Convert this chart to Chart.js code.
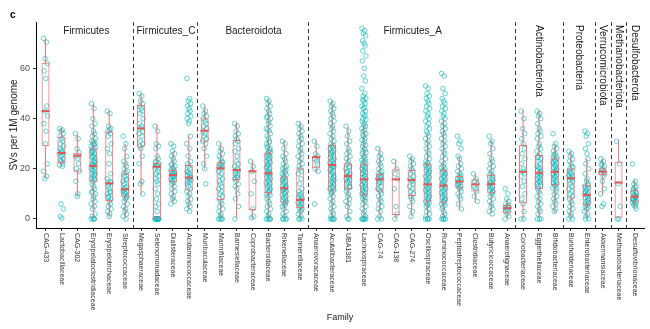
<!DOCTYPE html>
<html>
<head>
<meta charset="utf-8">
<script src="https://cdn.jsdelivr.net/npm/chart.js@4.4.0/dist/chart.umd.min.js"></script>
<style>
  html, body { margin: 0; padding: 0; background: #fff; }
</style>
</head>
<body>
<canvas id="svChart" width="650" height="329"></canvas>
<script>
const families = [
  'CAG-433', 'Lactobacillaceae', 'CAG-302', 'Erysipelatoclostridiaceae', 'Erysipelotrichaceae', 'Streptococcaceae',
  'Megasphaeraceae', 'Selenomonadaceae', 'Dialisteraceae', 'Acidaminococcaceae',
  'Muribaculaceae', 'Marinifilaceae', 'Barnesiellaceae', 'Coprobacteraceae', 'Bacteroidaceae', 'Rikenellaceae', 'Tannerellaceae',
  'Anaerovoracaceae', 'Acutalibacteraceae', 'UBA1381', 'Lachnospiraceae', 'CAG-74', 'CAG-138', 'CAG-274', 'Oscillospiraceae',
  'Ruminococcaceae', 'Peptostreptococcaceae', 'Clostridiaceae', 'Butyricicoccaceae', 'Anaerotignaceae',
  'Coriobacteriaceae', 'Eggerthellaceae', 'Bifidobacteriaceae',
  'Burkholderiaceae', 'Enterobacteriaceae',
  'Akkermansiaceae',
  'Methanobacteriaceae',
  'Desulfovibrionaceae'
];

// phylum name and index of its first family
const phyla = ['Firmicutes', 'Firmicutes_C', 'Bacteroidota', 'Firmicutes_A', 'Actinobacteriota',
  'Proteobacteria', 'Verrucomicrobiota', 'Methanobacteriota', 'Desulfobacterota'];
const phylumFirst = [0, 6, 10, 17, 30, 33, 35, 36, 37];

// box statistics (SVs per 1M genome)
const q1 = [29, 22.3, 18.8, 14.9, 7.2, 8.9, 28.8, 0, 14.6, 11.3, 30.8, 7.6, 15.5, 3.6, 10.3, 6.5, 4.4,
  20.2, 11.2, 11.8, 9.5, 10.9, 1.6, 9.2, 6.9, 6.5, 12.2, 10.9, 10.2, 2.3, 6.3, 11.8, 13.5, 8.2, 5.6, 17.5, 0.5, 6.9];
const median = [43, 26.3, 25.2, 21.1, 14.2, 11.8, 36.1, 20.8, 17.5, 16.5, 35.2, 20.2, 19.5, 19, 18.2, 12.2, 7.6,
  24.6, 21.5, 17.1, 15.8, 15.8, 15.8, 15.5, 13.8, 13.3, 14.9, 13.8, 13.9, 4.3, 18.8, 18.4, 18.8, 16.2, 9.6, 18.8, 14.5, 8.9];
const q3 = [62.3, 32.8, 26.4, 28.2, 34.8, 18.2, 45.4, 22.4, 19.5, 21.5, 40.1, 22.6, 31.5, 19.3, 26.3, 16.9, 20.2,
  25.2, 29.5, 22.2, 22, 17.9, 19.8, 19.5, 21.9, 19.5, 17.1, 15.8, 17.5, 5.6, 29.5, 25.5, 24.2, 20.2, 13.5, 20.2, 22.8, 11.6];
const whiskerLo = [16.3, 20.8, 9, 0, 1, 0, 9.6, 0, 6.5, 4, 19.8, 0, 0, 0.5, 0, 0, 0,
  18.3, 0, 0, 0, 0, 0, 1, 0, 0, 3.6, 6.5, 2.4, 0, 0, 0, 2.4, 0, 0, 9.6, 0, 4.3];
const whiskerHi = [72, 36.4, 34, 46, 43.4, 30, 50, 37.5, 26.8, 33.5, 45, 30.4, 38.4, 23.5, 47.4, 31.5, 38.8,
  31.5, 47.4, 36.8, 38, 28.4, 23.5, 24.8, 34.3, 40, 24.8, 18.2, 31.5, 8.2, 43.4, 43.4, 30.2, 26.8, 24.2, 24.2, 31.5, 15.5];

// individual genomes per family
const svPoints = [
  [72, 70.5, 64, 62, 59, 56, 45, 43, 41, 38, 35, 30, 22, 19, 17, 16],
  [36, 35.5, 35, 34, 33, 32, 31, 30, 29, 28, 27.5, 27, 26.5, 26, 25.5, 25, 24, 23.5, 23, 22, 21.5, 21, 6, 4, 1, 0.3],
  [34, 32, 28, 26.5, 25, 24, 22, 20, 19, 15, 10, 9],
  [46, 44, 40, 38, 37, 35, 34, 33, 32, 31, 31, 30, 30, 29, 29.5, 28, 28.5, 27, 27, 26, 26.5, 25, 25, 24, 24.5, 23, 23, 22, 22.5,
    21, 21, 21.5, 20, 20, 19, 19.5, 18, 18, 17, 17.5, 16, 16, 15, 15.5, 14, 13, 12, 11, 10, 10.5, 9, 8, 7, 6, 5, 4, 2, 1, 0, 0, 0, 0],
  [43, 42, 37, 36, 35, 35.5, 34, 33, 30, 28, 26, 22, 18, 16, 15, 14, 14.5, 13, 12, 11, 10, 10.5, 9, 8, 8.5, 7, 6, 5, 4, 3, 2, 1],
  [33, 30, 28, 25, 23, 22, 21, 20, 19, 18, 18.5, 17, 16, 15, 15.5, 14, 13, 12, 12.5, 11, 11.5, 10, 10.5, 9, 9.5, 8, 8.5, 7, 6, 5, 4, 3, 2, 1, 0],
  [50, 49, 47, 46, 45, 44, 43, 42, 40, 38, 37, 36, 35, 34, 33, 31, 30, 29, 28, 25, 22, 15, 14, 10],
  [37, 35, 30, 29, 28, 25, 24, 23, 22, 22.5, 21, 21.5, 20, 20.5, 19, 18, 17, 16, 15, 14, 12, 10, 8, 6, 5, 3, 0, 0, 0, 0, 0, 0, 0, 0, 0, 0],
  [30, 29, 27, 26, 25, 24, 23, 22, 21, 21.5, 20, 20.5, 19, 19.5, 18, 18.5, 18, 17, 17.5, 17, 16, 16.5, 15, 15.5, 14, 14.5, 13, 12, 11, 10, 9, 8, 7, 6],
  [56, 48, 47, 46, 45, 44, 43, 42, 41, 40, 39, 38, 33, 30, 28, 25, 23, 22, 21, 20, 19, 18, 18.5, 17, 17.5, 16, 16.5, 15, 15.5,
    14, 14.5, 13, 12, 11, 10, 9, 8, 7, 6, 5, 4, 3],
  [45, 43, 42, 41, 40, 39, 38, 37, 36, 35, 34, 33, 32, 31, 30, 28, 25, 22, 20, 14],
  [30, 28, 27, 26, 25, 24, 23, 22, 22.5, 21, 21.5, 20, 20.5, 19, 18, 17, 16, 15, 14, 13, 12, 11, 10, 9, 8, 7, 6, 5, 4, 3, 2, 1, 0, 0, 0, 0],
  [38, 37, 35, 34, 33, 32, 31, 30, 28, 27, 25, 23, 22, 21, 20, 19, 19.5, 18, 17, 17.5, 16, 16.5, 15, 14, 13, 12, 10, 8, 5, 0],
  [23, 21, 19, 15, 10, 4, 1, 0.5],
  [48, 47, 46, 45, 44, 43, 42, 41, 40, 40.5, 39, 38, 37, 36, 35, 35.5, 34, 33, 32, 31, 30, 30.5, 29, 28, 28.5, 27, 27.5, 26, 26.5,
    25, 25.5, 24, 24.5, 23, 23.5, 22, 22.5, 21, 21.5, 20, 20.5, 19, 19.5, 18, 18.5, 18, 17, 17.5, 16, 16.5, 15, 15.5, 14, 14.5,
    13, 13.5, 12, 12.5, 11, 11.5, 10, 10.5, 9, 9.5, 8, 7, 6, 5, 4, 3, 2, 1, 0, 0, 0, 0, 0],
  [31, 30, 28, 26, 25, 24, 23, 22, 21, 20, 20.5, 19, 19.5, 18, 18.5, 17, 17.5, 16, 16.5, 15, 15.5, 14, 14.5, 13, 13.5, 12, 12.5, 12,
    11, 11.5, 10, 10.5, 9, 9.5, 8, 8.5, 7, 7.5, 6, 6.5, 5, 5.5, 4, 3, 2, 1, 0, 0, 0, 0],
  [38, 37, 36, 35, 34, 33, 32, 31, 30, 29, 28, 27, 26, 25, 24, 23, 22, 21, 20, 19, 18, 16, 14, 12, 11, 10, 9, 9.5, 8, 8.5, 7,
    7.5, 6, 6.5, 5, 5.5, 4, 4.5, 3, 3.5, 2, 1, 0, 0, 0],
  [31, 29, 26, 25, 24, 23, 22, 20, 19, 6],
  [47, 46, 45, 44, 43, 42, 41, 40, 39, 38, 37, 36, 35, 34, 33, 32, 31, 30, 29, 29.5, 28, 28.5, 27, 27.5, 26, 26.5, 25, 25.5, 24,
    24.5, 23, 23.5, 22, 22.5, 21, 21.5, 21, 20, 20.5, 19, 19.5, 18, 18.5, 17, 17.5, 16, 16.5, 15, 15.5, 14, 14.5, 13, 13.5, 12,
    12.5, 11, 11.5, 10, 10.5, 9, 8, 7, 6, 5, 4, 3, 2, 1, 0, 0, 0, 0, 0],
  [37, 35, 33, 31, 30, 28, 27, 26, 25, 24, 23, 22, 21, 20, 20.5, 19, 18, 18.5, 17, 17.5, 16, 16.5, 15, 15.5, 14, 14.5, 13, 12,
    12.5, 11, 10, 9, 8, 7, 6, 5, 3, 1, 0, 0],
  [76, 75, 74, 73, 71, 70, 69, 67, 65, 63, 60, 57, 55, 52, 50, 49, 48, 47.5, 47, 46, 45, 44.5, 44, 43, 42, 41.5, 41, 40, 39.5, 39,
    38, 37.5, 37, 36, 35.5, 35, 34, 33.5, 33, 32, 31.5, 31, 30, 29.5, 29, 28, 27.5, 27, 26.5, 26, 25, 24.5, 24, 23.5, 23, 22.5, 22,
    21.5, 21, 20.5, 20, 19.5, 19, 18.5, 18, 17.5, 17, 16.5, 16, 15.5, 15, 14.5, 14, 13.5, 13, 12.5, 12, 11.5, 11, 10.5, 10, 9.5, 9,
    8.5, 8, 7.5, 7, 6, 5, 4, 3, 2, 1, 0, 0, 0, 0, 0, 0],
  [28, 26, 25, 24, 23, 22, 21, 20, 19, 18, 18.5, 17, 17.5, 16, 16.5, 15, 15.5, 14, 14.5, 13, 12, 11, 11.5, 10, 9, 8, 7, 6, 5, 4, 3, 1, 0, 0],
  [23, 20, 18, 16, 12, 5, 2, 0],
  [25, 24, 23, 22, 21, 20, 19, 18, 17, 16, 15, 15.5, 14, 13, 12, 11, 10, 9, 8, 7, 5, 3, 1],
  [53, 52, 50, 49, 48, 47, 46, 45, 44, 43, 42, 41, 40, 39, 38, 37, 36, 35, 34, 33, 32, 31, 30, 29, 28, 27, 26, 25, 24, 23, 22, 22.5,
    21, 21.5, 20, 20.5, 19, 19.5, 18, 18.5, 17, 17.5, 16, 16.5, 15, 15.5, 14, 14.5, 13, 13.5, 12, 12.5, 11, 11.5, 10, 10.5, 9, 9.5,
    8, 8.5, 7, 7.5, 6, 6.5, 5, 5.5, 4, 3, 2, 1, 0, 0, 0, 0],
  [58, 57, 52, 50, 48, 47, 46, 45, 44, 43, 42, 41, 40, 39, 38, 37, 36, 35, 34, 33, 32, 31, 30, 29, 28, 27, 26, 25, 24, 23, 22, 21,
    20, 20.5, 19, 19.5, 18, 18.5, 17, 17.5, 16, 16.5, 15, 15.5, 14, 14.5, 13, 13.5, 12, 12.5, 11, 11.5, 10, 10.5, 9, 9.5, 8, 8.5,
    7, 7.5, 6, 6.5, 5, 5.5, 4, 3, 2, 1, 0, 0, 0, 0],
  [33, 31, 30, 28, 25, 24, 22, 21, 20, 19, 18, 17, 17.5, 16, 16.5, 15, 15.5, 14, 14.5, 13, 13.5, 12, 12.5, 11, 10, 9, 8, 6, 4],
  [18, 16, 15, 14, 13, 12, 11, 9, 7],
  [33, 31, 30, 28, 26, 24, 23, 22, 21, 20, 19, 18, 17, 17.5, 16, 15, 15.5, 14, 14.5, 13, 13.5, 12, 12.5, 11, 11.5, 10, 10.5, 9, 8, 7, 6, 5, 4, 3, 2],
  [12, 10, 8, 7, 6, 5, 5.5, 4, 4.5, 3, 3.5, 2, 1, 0],
  [43, 40, 36, 34, 32, 30, 28, 26, 24, 22, 20, 19, 18, 17, 15, 13, 10, 8, 6, 3, 0, 0],
  [43, 42, 41, 40, 38, 36, 35, 34, 33, 32, 30, 29, 28, 27, 26, 25, 24, 24.5, 23, 22, 21, 20, 20.5, 19, 19.5, 18, 18.5, 17, 17.5,
    16, 16.5, 15, 15.5, 14, 14.5, 13, 13.5, 12, 11, 10, 9, 8, 7, 6, 5, 4, 3, 2, 0, 0, 0],
  [34, 30, 29, 28, 27, 26, 25, 25.5, 24, 24.5, 23, 23.5, 22, 22.5, 21, 21.5, 20, 20.5, 19, 19.5, 18, 18.5, 17, 17.5, 16, 16.5,
    15, 15.5, 14, 14.5, 13, 13.5, 12, 12.5, 11, 10, 9, 8, 7, 6, 5, 4, 3],
  [27, 26, 25, 24, 23, 22, 21, 20, 20.5, 19, 18, 18.5, 17, 17.5, 16, 16.5, 15, 15.5, 14, 13, 12, 11, 10, 9, 8, 7, 6, 5, 4, 3, 2, 1, 0, 0],
  [35, 34, 33, 30, 28, 26, 24, 22, 20, 18, 16, 15, 14, 13, 13.5, 12, 12.5, 11, 11.5, 10, 10.5, 9, 9.5, 8, 8.5, 7, 7.5, 6, 6.5,
    5, 5.5, 4, 4.5, 3, 2, 1, 0, 0],
  [24, 23, 22, 21, 21.5, 20, 19, 19.5, 18, 18.5, 17, 15, 12, 10, 6, 5],
  [31, 22, 14, 5, 0, 0],
  [22, 15, 14, 13, 12, 12.5, 11, 11.5, 10, 10.5, 9, 9.5, 9, 8, 8.5, 8, 7, 7.5, 7, 6, 6.5, 5, 5.5, 4]
];

// horizontal spread of the points around each family (in category units)
const jitter = [-0.12, 0.05, -0.03, 0.11, -0.08, 0.02, 0.08, -0.06, 0.13, -0.1, 0.03, -0.01, 0.1, -0.13, 0.06, -0.04, 0.12, -0.07, 0.0, 0.07];

const boxRed = 'rgba(240, 105, 105, 0.9)';
const pointTeal = 'rgba(0, 182, 186, 0.68)';
const fontFamily = '"Liberation Sans", Arial, sans-serif';

Chart.defaults.font.family = fontFamily;

const pointData = [];
svPoints.forEach((vals, i) => {
  vals.forEach((v, j) => pointData.push({ x: i + jitter[j % jitter.length], y: v }));
});

const groupLast = phylumFirst.map((f, k) => k < phylumFirst.length - 1 ? phylumFirst[k + 1] - 1 : families.length - 1);

const annotate = {
  id: 'annotate',
  beforeDatasetsDraw(chart) {
    const { ctx, chartArea: a, scales: { x } } = chart;
    ctx.save();
    ctx.strokeStyle = '#3a3a3a';
    ctx.lineWidth = 1;
    ctx.setLineDash([4, 3]);
    phylumFirst.slice(1).forEach(f => {
      const px = Math.round(x.getPixelForValue(f - 0.5)) + 0.5;
      ctx.beginPath();
      ctx.moveTo(px, a.top);
      ctx.lineTo(px, a.bottom);
      ctx.stroke();
    });
    ctx.restore();
  },
  afterDraw(chart) {
    const { ctx, chartArea: a, scales: { x } } = chart;
    ctx.save();
    // family names, reading downwards
    ctx.fillStyle = '#333';
    ctx.font = '7px ' + fontFamily;
    ctx.textAlign = 'left';
    ctx.textBaseline = 'middle';
    families.forEach((name, i) => {
      ctx.save();
      ctx.translate(x.getPixelForValue(i), a.bottom + 5);
      ctx.rotate(Math.PI / 2);
      ctx.fillText(name, 0, 0);
      ctx.restore();
    });
    // phylum headers
    ctx.fillStyle = '#1a1a1a';
    ctx.font = '10px ' + fontFamily;
    phyla.forEach((name, k) => {
      const mid = (phylumFirst[k] + groupLast[k]) / 2;
      const px = x.getPixelForValue(mid);
      if (groupLast[k] - phylumFirst[k] >= 3) {
        ctx.textAlign = 'center';
        ctx.fillText(name, px + 1, a.top + 9);
      } else {
        ctx.save();
        ctx.translate(px, a.top + 3);
        ctx.rotate(Math.PI / 2);
        ctx.textAlign = 'left';
        ctx.fillText(name, 0, 0);
        ctx.restore();
      }
    });
    // panel letter
    ctx.fillStyle = '#000';
    ctx.font = 'bold 10px ' + fontFamily;
    ctx.textAlign = 'left';
    ctx.fillText('c', 10, 15);
    ctx.restore();
  }
};

const chart = new Chart(document.getElementById('svChart'), {
  type: 'scatter',
  data: {
    datasets: [
      {
        type: 'scatter',
        data: families.map((f, i) => ({ x: i, y: median[i] })),
        pointStyle: 'line',
        pointRadius: 4,
        borderColor: 'rgba(232, 80, 80, 0.95)',
        borderWidth: 2,
        order: 0
      },
      {
        type: 'bar',
        data: families.map((f, i) => ({ x: i, y: [q1[i], q3[i]] })),
        backgroundColor: 'rgba(0,0,0,0)',
        borderColor: boxRed,
        borderWidth: 1,
        borderSkipped: false,
        maxBarThickness: 8,
        grouped: false,
        order: 1
      },
      {
        type: 'bar',
        data: families.map((f, i) => ({ x: i, y: [whiskerLo[i], q1[i]] })),
        backgroundColor: boxRed,
        borderWidth: 0,
        maxBarThickness: 1,
        grouped: false,
        order: 1
      },
      {
        type: 'bar',
        data: families.map((f, i) => ({ x: i, y: [q3[i], whiskerHi[i]] })),
        backgroundColor: boxRed,
        borderWidth: 0,
        maxBarThickness: 1,
        grouped: false,
        order: 1
      },
      {
        type: 'scatter',
        data: pointData,
        pointRadius: 2.3,
        pointBorderWidth: 0.9,
        pointBackgroundColor: 'rgba(0,0,0,0)',
        pointBorderColor: pointTeal,
        order: 2
      }
    ]
  },
  options: {
    responsive: false,
    animation: false,
    layout: { padding: { top: 22, right: 1, left: 0, bottom: 0 } },
    plugins: { legend: { display: false }, tooltip: { enabled: false } },
    scales: {
      x: {
        type: 'linear',
        min: -0.6,
        max: 37.6,
        offset: false,
        grid: { display: true, offset: false, drawOnChartArea: false, drawTicks: true, tickLength: 3, tickColor: '#333' },
        border: { display: true, color: '#000', width: 1 },
        ticks: { stepSize: 1, autoSkip: false, includeBounds: false, padding: 0, callback: () => '' },
        title: { display: true, text: 'Family', color: '#1a1a1a', font: { size: 9 }, padding: { top: 0, bottom: 6 } },
        afterFit: s => { s.height = 101; }
      },
      y: {
        type: 'linear',
        min: -3.6,
        max: 78.5,
        grid: { display: true, drawOnChartArea: false, drawTicks: true, tickLength: 3, tickColor: '#333' },
        border: { display: true, color: '#000', width: 1 },
        ticks: { stepSize: 20, includeBounds: false, padding: 3, color: '#4d4d4d', font: { size: 9 } },
        title: { display: true, text: 'SVs per 1M genome', color: '#1a1a1a', font: { size: 10 }, padding: { top: 8, bottom: 0 } },
        afterFit: s => { s.width = 36; }
      }
    }
  },
  plugins: [annotate]
});
</script>
</body>
</html>
